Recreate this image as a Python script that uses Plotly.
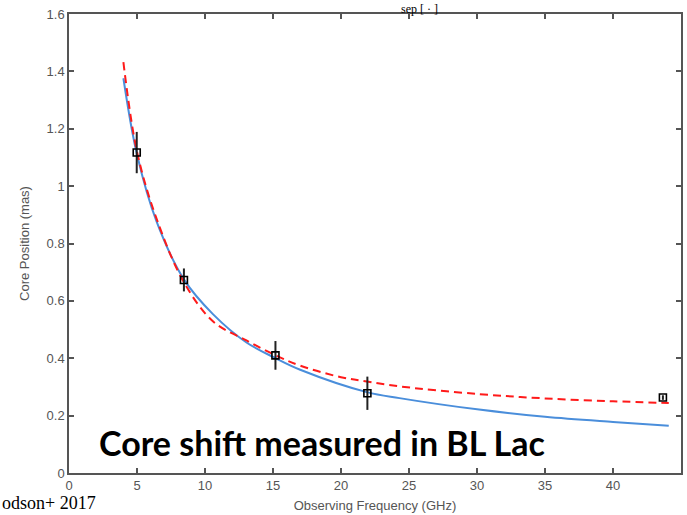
import plotly.graph_objects as go

# Measured core positions (BL Lac)
freq = [4.98, 8.45, 15.18, 21.94, 43.67]
core_pos = [1.117, 0.673, 0.41, 0.278, 0.263]
core_err = [0.072, 0.04, 0.05, 0.058, 0.008]

# Fitted curve (blue, solid)
blue_x = [4.0, 5.0, 6.45, 8.45, 10.6, 13.05, 15.2, 17.0, 21.9, 24.3, 30.15, 35.0, 40.0, 44.1]
blue_y = [1.376, 1.11, 0.875, 0.675, 0.553, 0.455, 0.40, 0.36, 0.282, 0.261, 0.221, 0.196, 0.178, 0.165]

# Fitted curve (red, dashed)
red_x = [4.0, 5.0, 6.45, 8.45, 10.6, 13.05, 15.2, 17.0, 20.0, 21.9, 24.3, 30.15, 35.0, 40.0, 44.1]
red_y = [1.432, 1.12, 0.885, 0.665, 0.528, 0.462, 0.41, 0.374, 0.334, 0.319, 0.302, 0.275, 0.26, 0.25, 0.244]

x_ticks = [0, 5, 10, 15, 20, 25, 30, 35, 40, 45]
y_ticks = [0, 0.2, 0.4, 0.6, 0.8, 1.0, 1.2, 1.4, 1.6]
y_tick_text = ["0", "0.2", "0.4", "0.6", "0.8", "1", "1.2", "1.4", "1.6"]

fig = go.Figure()
fig.add_trace(go.Scatter(x=blue_x, y=blue_y, mode="lines", line=dict(color="#4a8edb", width=2, shape="spline"),
                         showlegend=False, hoverinfo="skip"))
fig.add_trace(go.Scatter(x=red_x, y=red_y, mode="lines", line=dict(color="#ff1a1a", width=2, dash="8px,5px", shape="spline"),
                         showlegend=False, hoverinfo="skip"))
fig.add_trace(go.Scatter(x=freq, y=core_pos, mode="markers",
                         marker=dict(symbol="square-open", size=7, color="black", line=dict(width=1.6, color="black")),
                         error_y=dict(type="data", array=core_err, visible=True, color="#222", thickness=2, width=0),
                         showlegend=False))

tick_font = dict(family="Liberation Sans, Arial", size=13, color="#555")
title_font = dict(family="Liberation Sans, Arial", size=13, color="#555")
axis_common = dict(showline=True, linecolor="#555", linewidth=1.5, mirror="ticks", ticks="inside",
                   ticklen=5, tickcolor="#555", tickwidth=1.5, showgrid=False, zeroline=False,
                   tickfont=tick_font)

fig.update_layout(
    width=687, height=515,
    margin=dict(l=69, r=4, t=14, b=42),
    paper_bgcolor="white", plot_bgcolor="white",
    xaxis=dict(range=[0, 45], tickvals=x_ticks, title=dict(text="Observing Frequency (GHz)", standoff=9,
               font=title_font), **axis_common),
    yaxis=dict(range=[0, 1.6], tickvals=y_ticks, ticktext=y_tick_text, title=dict(text="Core Position (mas)", standoff=14,
               font=title_font), **axis_common),
)

fig.add_annotation(text="<b>Core shift measured in BL Lac</b>", xref="paper", yref="paper",
                   x=0.045, y=0.066, xanchor="left", yanchor="middle", showarrow=False,
                   font=dict(family="Lato, Open Sans", size=34, color="black"))
fig.add_annotation(text="odson+ 2017", xref="paper", yref="paper", x=-0.112, y=-0.0908,
                   xanchor="left", yanchor="bottom", showarrow=False,
                   font=dict(family="Liberation Serif, Times New Roman", size=18, color="black"))
fig.add_annotation(text="sep [ · ]", xref="paper", yref="paper", x=0.572, y=1.0305,
                   xanchor="center", yanchor="top", showarrow=False,
                   font=dict(family="Liberation Serif, Times New Roman", size=12, color="black"))

fig.write_html("out.html")
